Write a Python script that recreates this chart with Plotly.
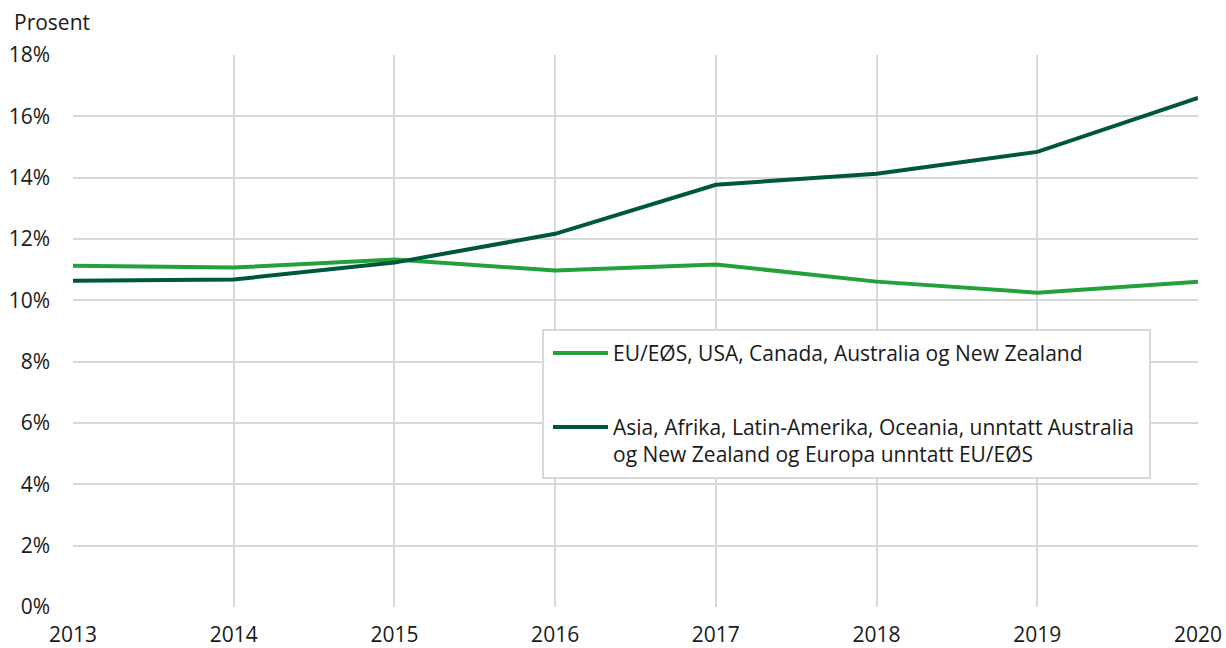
import plotly.graph_objects as go

years = [2013, 2014, 2015, 2016, 2017, 2018, 2019, 2020]
eu_values = [11.13, 11.07, 11.33, 10.97, 11.17, 10.61, 10.25, 10.61]
other_values = [10.64, 10.68, 11.23, 12.17, 13.77, 14.13, 14.84, 16.60]
y_ticks = [0, 2, 4, 6, 8, 10, 12, 14, 16, 18]
y_tick_labels = [f"{v}%" for v in y_ticks]

name_eu = "EU/EØS, USA, Canada, Australia og New Zealand"
name_other = "Asia, Afrika, Latin-Amerika, Oceania, unntatt Australia<br>og New Zealand og Europa unntatt EU/EØS"
color_eu = "#23a23a"
color_other = "#00563e"

W, H = 1226, 648
ML, MR, MT, MB = 73, 28, 55, 41
PW, PH = W - ML - MR, H - MT - MB


def px(x):
    return (x - ML) / PW


def py(y):
    return 1 - (y - MT) / PH


fig = go.Figure()
fig.add_trace(go.Scatter(x=years, y=eu_values, mode="lines", name=name_eu,
                         showlegend=False, line=dict(color=color_eu, width=4)))
fig.add_trace(go.Scatter(x=years, y=other_values, mode="lines", name=name_other,
                         showlegend=False, line=dict(color=color_other, width=4)))

font = "Open Sans, sans-serif"
txt_color = "#1a1a1a"

shapes = [
    dict(type="rect", xref="paper", yref="paper", x0=px(543), x1=px(1150),
         y0=py(330), y1=py(478), line=dict(color="#d9d9d9", width=2),
         fillcolor="white", layer="above"),
    dict(type="line", xref="paper", yref="paper", x0=px(553), x1=px(608),
         y0=py(353), y1=py(353), line=dict(color=color_eu, width=4), layer="above"),
    dict(type="line", xref="paper", yref="paper", x0=px(553), x1=px(608),
         y0=py(427), y1=py(427), line=dict(color=color_other, width=4), layer="above"),
]

annotations = [
    dict(text="Prosent", x=px(12), y=py(22), xref="paper", yref="paper",
         showarrow=False, xanchor="left", yanchor="middle",
         font=dict(family=font, size=21, color=txt_color)),
    dict(text=name_eu, x=px(611), y=py(353), xref="paper", yref="paper",
         showarrow=False, xanchor="left", yanchor="middle", align="left",
         font=dict(family=font, size=21, color=txt_color)),
    dict(text=name_other, x=px(611), y=py(411), xref="paper", yref="paper",
         showarrow=False, xanchor="left", yanchor="top", align="left",
         font=dict(family=font, size=21, color=txt_color)),
]

fig.update_layout(
    width=W, height=H,
    margin=dict(l=ML, r=MR, t=MT, b=MB, autoexpand=False),
    paper_bgcolor="white", plot_bgcolor="white",
    font=dict(family=font, size=21, color=txt_color),
    showlegend=False,
    xaxis=dict(range=[2013, 2020], tickvals=years, ticktext=[str(y) for y in years],
               showgrid=True, gridcolor="#d9d9d9", gridwidth=2,
               zeroline=False, showline=False, ticks="", automargin=False,
               ticklabelstandoff=13, fixedrange=True),
    yaxis=dict(range=[0, 18], tickvals=y_ticks, ticktext=y_tick_labels,
               showgrid=True, gridcolor="#d9d9d9", gridwidth=2,
               zeroline=False, showline=False, ticks="", automargin=False,
               ticklabelstandoff=22, fixedrange=True),
    shapes=shapes,
    annotations=annotations,
)

fig.write_html("out.html", config={"displayModeBar": False},
               post_script="document.body.style.margin='0';document.body.style.padding='0';")
